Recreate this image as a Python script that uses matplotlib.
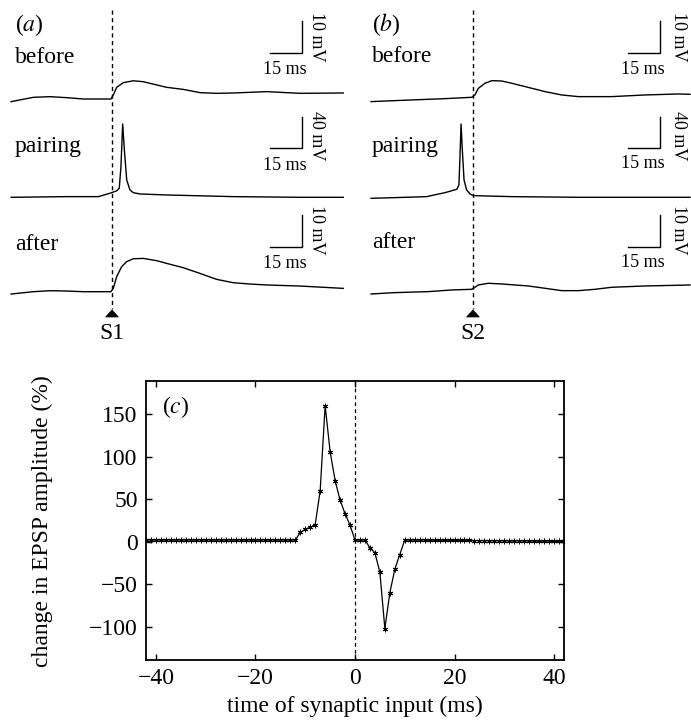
import matplotlib
matplotlib.use('Agg')
import matplotlib.pyplot as plt
from matplotlib.patches import Polygon

plt.rcParams['font.family'] = ['Liberation Serif', 'DejaVu Serif']
plt.rcParams['mathtext.fontset'] = 'stix'

# ---------------- data: panel (a) traces (time ms rel. to S1, mV rel. to rest)
a_before_t = [-47.3, -36.9, -29.1, -21.3, -13.4, -5.6, -0.5, 0.6, 2.2, 5.3, 10.0, 14.7, 20.9,
              25.6, 33.4, 41.3, 49.1, 56.9, 72.5, 88.1, 108.4]
a_before_v = [-0.83, 0.52, 0.73, 0.42, 0.0, 0.0, 0.0, 1.25, 3.65, 5.1, 5.7, 5.4, 4.4,
              3.65, 3.0, 1.98, 1.77, 1.88, 2.3, 1.77, 1.88]

a_pair_t = [-47.3, -21.3, -6.4, -1.0, 2.1, 3.4, 4.2, 5.0, 5.8, 6.9, 8.4, 10.0, 13.1,
            25.6, 56.9, 88.1, 108.4]
a_pair_v = [0.0, 0.86, 0.86, 5.2, 8.2, 11.6, 39.6, 94.6, 61.0, 22.4, 9.5, 6.0, 4.3,
            3.0, 0.86, 0.0, 0.0]

a_after_t = [-47.3, -36.9, -29.1, -21.3, -13.4, -0.5, 0.6, 2.2, 4.5, 6.9, 10.0, 14.7, 20.9,
             25.6, 33.4, 41.3, 49.1, 56.9, 64.7, 72.5, 88.1, 108.4]
a_after_v = [-0.73, 0.0, 0.31, 0.21, 0.0, 0.0, 1.04, 4.7, 7.8, 9.4, 10.3, 10.4, 9.7,
             8.85, 7.5, 5.7, 3.85, 2.8, 2.4, 2.1, 1.77, 1.04]

# ---------------- data: panel (b) traces (time ms rel. to S2)
b_before_t = [-47.8, -36.6, -28.8, -13.1, -0.6, 0.9, 2.5, 5.6, 8.8, 13.4, 18.1, 25.9,
              33.8, 41.6, 49.4, 65.0, 80.6, 96.3, 101.7]
b_before_v = [-1.35, -1.04, -0.83, -0.42, 0.0, 0.73, 2.8, 4.4, 5.2, 5.1, 4.4, 3.1,
              1.77, 0.73, 0.21, 0.21, 0.73, 1.04, 0.94]

b_pair_t = [-47.8, -36.6, -21.8, -13.1, -7.6, -6.6, -6.1, -5.6, -5.0, -4.2, -3.0, -1.4,
            0.2, 18.1, 49.4, 101.7]
b_pair_v = [-1.3, -0.43, 0.86, 6.0, 10.3, 15.9, 52.5, 94.6, 61.0, 22.4, 9.5, 4.3,
            2.15, 0.86, 0.0, 0.0]

b_after_t = [-47.8, -36.6, -21.0, -10.0, -0.6, 0.9, 2.5, 7.2, 13.4, 25.9, 33.8, 41.6,
             49.4, 57.2, 65.0, 80.6, 101.7]
b_after_v = [-1.46, -1.04, -0.73, -0.21, 0.0, 0.63, 1.35, 1.88, 1.67, 1.04, 0.31, -0.42,
             -0.42, 0.0, 0.63, 1.04, 1.35]

# ---------------- data: panel (c)
time_c = [-42, -41, -40, -39, -38, -37, -36, -35, -34, -33, -32, -31, -30, -29, -28, -27,
          -26, -25, -24, -23, -22, -21, -20, -19, -18, -17, -16, -15, -14, -13, -12, -11,
          -10, -9, -8, -7, -6, -5, -4, -3, -2, -1, 0, 1, 2, 3, 4, 5, 6, 7, 8, 9, 10,
          11, 12, 13, 14, 15, 16, 17, 18, 19, 20, 21, 22, 23, 24, 25, 26, 27, 28, 29,
          30, 31, 32, 33, 34, 35, 36, 37, 38, 39, 40, 41, 42]
change_c = [2, 2, 2, 2, 2, 2, 2, 2, 2, 2, 2, 2, 2, 2, 2, 2,
            2, 2, 2, 2, 2, 2, 2, 2, 2, 2, 2, 2, 2, 2, 2, 11,
            14.5, 17, 20, 60, 160, 106, 72, 49, 33, 19.5, 2, 2, 2, -7, -13, -36, -102, -60, -32.5, -15, 2,
            2, 2, 2, 2, 1.8, 1.8, 1.8, 1.8, 1.7, 1.6, 1.6, 1.5, 1.5, 1.4, 1.3, 1.3, 1.2, 1.2, 1.1,
            1.1, 1.0, 1.0, 0.9, 0.9, 0.8, 0.8, 0.7, 0.7, 0.6, 0.6, 0.5, 0.5]
yticks_c = [-100, -50, 0, 50, 100, 150]
xticks_c = [-40, -20, 0, 20, 40]

# ---------------- layout helpers
W, H = 691, 723
fig = plt.figure(figsize=(W / 100, H / 100), dpi=100)


def px_axes(x0, y0, x1, y1):
    return fig.add_axes([x0 / W, 1 - y1 / H, (x1 - x0) / W, (y1 - y0) / H])


MS_PER_PX = 15 / 32
PX_PER_MV_SMALL = 3.2   # 10 mV bar = 32 px
PX_PER_MV_BIG = 0.775   # 40 mV bar = 31 px
LBL = 17
SMALL = 13


def draw_panel(x0, x1, stim_px, letter, stim_label, traces, bar_end_px, mv_text_px):
    ax = px_axes(x0, 0, x1, 345)
    ax.set_xlim((x0 - stim_px) * MS_PER_PX, (x1 - stim_px) * MS_PER_PX)
    ax.set_ylim(345, 0)
    ax.axis('off')
    tx = lambda px: (px - stim_px) * MS_PER_PX
    ax.text(tx(x0 + 15 if letter == 'a' else x0 + 27), 31, r'($' + letter + r'$)', fontsize=LBL,
            ha='left', va='baseline')
    bar_t1 = tx(bar_end_px)
    bar_t0 = bar_t1 - 15
    for (t, v, base, scale, name, name_y, bar_mv, bar_bottom, mv_y, ms_y) in traces:
        ax.plot(t, [base - vi * scale for vi in v], color='black', lw=1.0)
        ax.text(tx(x0 + 15 if letter == 'a' else x0 + 27), name_y, name, fontsize=LBL,
                ha='left', va='baseline')
        ax.plot([bar_t0, bar_t1, bar_t1], [bar_bottom, bar_bottom, bar_bottom - bar_mv * scale],
                color='black', lw=1.0, solid_joinstyle='miter')
        ax.text(tx(mv_text_px), mv_y, f'{bar_mv} mV', fontsize=SMALL, rotation=-90,
                ha='center', va='center')
        ax.text((bar_t0 + bar_t1) / 2 - 0.5, ms_y, '15 ms', fontsize=SMALL,
                ha='center', va='center')
    ax.plot([0, 0], [10, 309], color='black', lw=1.0, ls=(0, (3, 2.5)))
    ax.add_patch(Polygon([[-3.0, 317], [3.0, 317], [0, 310]], closed=True,
                         facecolor='black', edgecolor='black', lw=0.5))
    ax.text(0, 323, stim_label, fontsize=LBL, ha='center', va='top')


draw_panel(0, 345, 112, 'a', 'S1', [
    (a_before_t, a_before_v, 99.0, PX_PER_MV_SMALL, 'before', 63, 10, 53, 37, 70),
    (a_pair_t, a_pair_v, 197.3, PX_PER_MV_BIG, 'pairing', 152, 40, 148, 136, 165),
    (a_after_t, a_after_v, 291.7, PX_PER_MV_SMALL, 'after', 250, 10, 247, 230, 263),
], 302, 316)

draw_panel(345, 691, 473, 'b', 'S2', [
    (b_before_t, b_before_v, 97.3, PX_PER_MV_SMALL, 'before', 62, 10, 53, 37, 70),
    (b_pair_t, b_pair_v, 197.3, PX_PER_MV_BIG, 'pairing', 152, 40, 148, 136, 164),
    (b_after_t, b_after_v, 289.3, PX_PER_MV_SMALL, 'after', 248, 10, 247, 230, 262),
], 660, 679)

# ---------------- panel (c)
axc = px_axes(146, 381, 564, 660)
axc.plot(time_c, change_c, color='black', lw=0.9, marker=(6, 2, 0), ms=4, mew=0.7)
axc.axvline(0, color='black', lw=0.9, ls=(0, (3, 2.5)))
axc.set_xlim(-42, 42)
axc.set_ylim(-139, 189)
axc.set_xticks(xticks_c)
axc.set_yticks(yticks_c)
axc.set_xticklabels([f'{v}'.replace('-', '\u2212') for v in xticks_c])
axc.set_yticklabels([f'{v}'.replace('-', '\u2212') for v in yticks_c])
axc.tick_params(direction='in', top=True, right=True, length=4, width=1.0,
                labelsize=LBL, pad=6)
for s in axc.spines.values():
    s.set_linewidth(1.3)
axc.text(0.038, 0.885, r'($c$)', transform=axc.transAxes, fontsize=LBL, ha='left',
         va='baseline')
fig.text(42 / W, 1 - 521 / H, 'change in EPSP amplitude (%)', rotation=90, fontsize=LBL,
         ha='center', va='center')
fig.text(355 / W, 1 - 706 / H, 'time of synaptic input (ms)', fontsize=LBL,
         ha='center', va='center')

fig.savefig('out.png', dpi=100)
